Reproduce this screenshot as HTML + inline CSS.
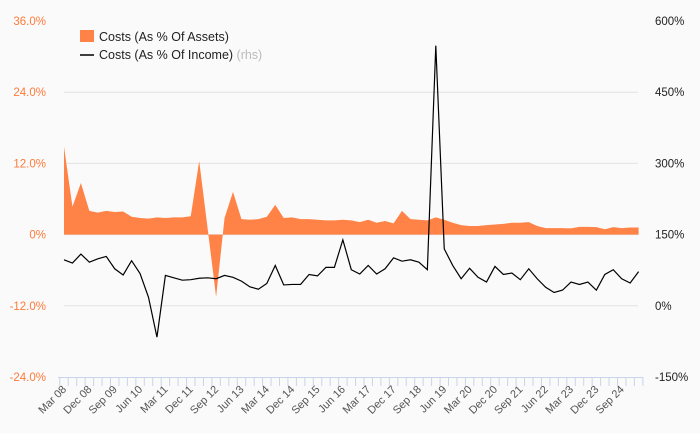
<!DOCTYPE html>
<html><head><meta charset="utf-8"><style>
body{margin:0;background:#fafafa;font-family:"Liberation Sans",sans-serif;}
svg{display:block}
</style></head><body>
<svg id="chart" width="700" height="433" xmlns="http://www.w3.org/2000/svg">
<rect width="700" height="433" fill="#fafafa"/>
<g id="grid"></g><g id="series"></g><g id="axes"></g>
<g font-size="12.5">
<rect x="80" y="30" width="14" height="12" fill="#ff8346"/>
<text x="99" y="41" fill="#222">Costs (As % Of Assets)</text>
<line x1="80" y1="55" x2="94" y2="55" stroke="#000" stroke-width="1.5"/>
<text x="99" y="59" fill="#222">Costs (As % Of Income) <tspan fill="#bbb">(rhs)</tspan></text>
</g>
</svg>
<script>
const categories=["Mar 08","Dec 08","Sep 09","Jun 10","Mar 11","Dec 11","Sep 12","Jun 13","Mar 14","Dec 14","Sep 15","Jun 16","Mar 17","Dec 17","Sep 18","Jun 19","Mar 20","Dec 20","Sep 21","Jun 22","Mar 23","Dec 23","Sep 24"];
const assetsPct=[14.8,4.7,8.7,4.0,3.7,4.0,3.8,3.9,3.0,2.8,2.7,2.9,2.8,2.9,2.9,3.1,12.4,1.0,-10.5,2.8,7.2,2.6,2.5,2.6,3.0,5.0,2.8,2.9,2.6,2.6,2.5,2.4,2.4,2.5,2.4,2.1,2.5,2.0,2.3,1.9,4.0,2.6,2.5,2.4,2.9,2.5,2.0,1.6,1.45,1.45,1.6,1.7,1.8,2.0,2.0,2.1,1.45,1.1,1.1,1.1,1.05,1.3,1.3,1.25,0.9,1.25,1.1,1.2,1.2];
const incomePct=[97,90,109,92,99,104,78,65,95,68,18,-66,64,59,54,55,58,59,57,64,60,52,40,35,47,85,44,45,45,66,63,81,81,139,76,67,85,67,78,101,94,97,92,76,548,120,85,57,79,60,50,83,66,69,55,78,57,39,28,33,50,45,50,33,66,76,57,48,72];
const leftTicks=[36,24,12,0,-12,-24];
const leftLabels=["36.0%","24.0%","12.0%","0%","-12.0%","-24.0%"];
const rightTicks=[600,450,300,150,0,-150];
const rightLabels=["600%","450%","300%","150%","0%","-150%"];
const NS="http://www.w3.org/2000/svg";
const top_=21,bot=377,x0=64,step=8.45;
const yL=v=>top_+(36-v)*(bot-top_)/60;
const yR=v=>top_+(600-v)*(bot-top_)/750;
const xI=i=>x0+i*step;
function mk(tag,attrs,parent){const e=document.createElementNS(NS,tag);for(const k in attrs)e.setAttribute(k,attrs[k]);document.getElementById(parent).appendChild(e);return e;}
leftTicks.forEach((t,k)=>{
 if(t!==36&&t!==-24){const g=mk('line',{x1:64,x2:638,y1:yL(t),y2:yL(t),stroke:'#e2e2e2','stroke-width':1},'grid');
 
 }
 const tx=mk('text',{x:46,y:yL(t)+4,'text-anchor':'end','font-size':11.5,fill:'#ff7a3a'},'axes');tx.textContent=leftLabels[k];
 
 
});
rightTicks.forEach((t,k)=>{
 const tx=mk('text',{x:655,y:yR(t)+4,'font-size':11.5,fill:'#222'},'axes');tx.textContent=rightLabels[k];
 
 
});
let d='M'+xI(0)+','+yL(0);
assetsPct.forEach((v,i)=>{d+=' L'+xI(i)+','+yL(v);});
d+=' L'+xI(assetsPct.length-1)+','+yL(0)+' Z';
const a=mk('path',{d:d,fill:'#ff8346'},'series');


const l=mk('path',{d:incomePct.map((v,i)=>(i?'L':'M')+xI(i)+','+yR(v)).join(' '),fill:'none',stroke:'#000','stroke-width':1.2},'series');


const ax=mk('line',{x1:58,x2:643,y1:377.5,y2:377.5,stroke:'#c8d4ea'},'axes');


for(let i=0;i<=assetsPct.length;i++){const tk=mk('line',{x1:xI(i)-4.2,x2:xI(i)-4.2,y1:377,y2:386,stroke:'#c8d4ea'},'axes');
 
 }
categories.forEach((c,k)=>{const x=xI(k*3)+3,y=390;
 const tx=mk('text',{x:x,y:y,'text-anchor':'end','font-size':11,fill:'#555',transform:`rotate(-45 ${x} ${y})`},'axes');tx.textContent=c;
 
 });
</script>
</body></html>
